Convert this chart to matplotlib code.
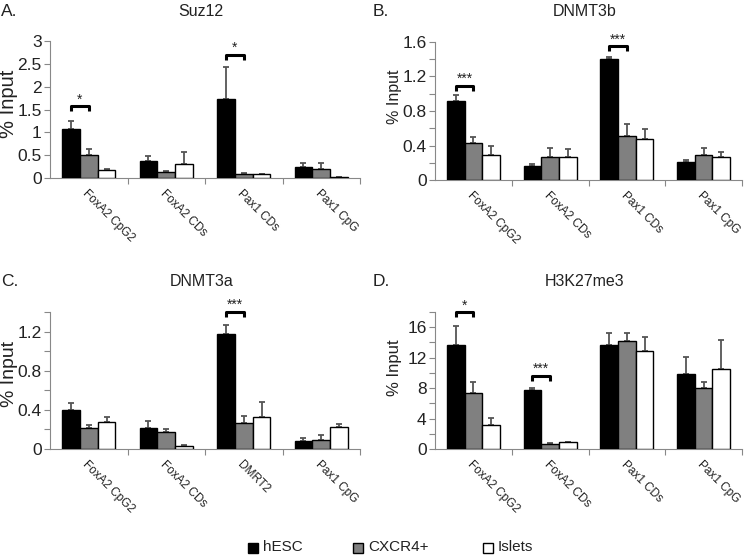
import matplotlib
matplotlib.use("Agg")
import matplotlib.pyplot as plt
import numpy as np

plt.rcParams['font.family'] = ['Liberation Sans', 'DejaVu Sans']

series = ["hESC", "CXCR4+", "Islets"]
colors = ["#000000", "#808080", "#ffffff"]

# Panel A: Suz12
catsA = ["FoxA2 CpG2", "FoxA2 CDs", "Pax1 CDs", "Pax1 CpG"]
A_hesc = [1.07, 0.38, 1.72, 0.23]
A_cxcr = [0.50, 0.13, 0.095, 0.20]
A_isl = [0.18, 0.31, 0.08, 0.015]
A_hesc_err = [0.17, 0.10, 0.70, 0.10]
A_cxcr_err = [0.13, 0.02, 0.025, 0.13]
A_isl_err = [0.02, 0.27, 0.0, 0.0]

# Panel B: DNMT3b
catsB = ["FoxA2 CpG2", "FoxA2 CDs", "Pax1 CDs", "Pax1 CpG"]
B_hesc = [0.92, 0.16, 1.40, 0.205]
B_cxcr = [0.43, 0.27, 0.515, 0.29]
B_isl = [0.29, 0.27, 0.47, 0.27]
B_hesc_err = [0.07, 0.02, 0.03, 0.025]
B_cxcr_err = [0.07, 0.10, 0.13, 0.08]
B_isl_err = [0.10, 0.09, 0.12, 0.05]

# Panel C: DNMT3a
catsC = ["FoxA2 CpG2", "FoxA2 CDs", "DMRT2", "Pax1 CpG"]
C_hesc = [0.395, 0.21, 1.18, 0.078]
C_cxcr = [0.21, 0.17, 0.27, 0.095]
C_isl = [0.28, 0.034, 0.33, 0.22]
C_hesc_err = [0.075, 0.08, 0.09, 0.03]
C_cxcr_err = [0.04, 0.03, 0.07, 0.045]
C_isl_err = [0.05, 0.006, 0.15, 0.035]

# Panel D: H3K27me3
catsD = ["FoxA2 CpG2", "FoxA2 CDs", "Pax1 CDs", "Pax1 CpG"]
D_hesc = [13.7, 7.74, 13.65, 9.9]
D_cxcr = [7.35, 0.70, 14.2, 8.0]
D_isl = [3.13, 0.87, 12.83, 10.48]
D_hesc_err = [2.5, 0.22, 1.6, 2.23]
D_cxcr_err = [1.4, 0.13, 1.06, 0.78]
D_isl_err = [0.9, 0.05, 1.9, 3.9]

panels = [
    dict(letter="A.", title="Suz12", cats=catsA, vals=[A_hesc, A_cxcr, A_isl],
         errs=[A_hesc_err, A_cxcr_err, A_isl_err], ylim=3.0, major=0.5, minor=None,
         fmt=lambda v: f"{v:g}", sig=[(0, 1.57, "*"), (2, 2.69, "*")],
         rect=(50, 41, 360, 178), top=0, ylab=(9, 104, 14.5)),
    dict(letter="B.", title="DNMT3b", cats=catsB, vals=[B_hesc, B_cxcr, B_isl],
         errs=[B_hesc_err, B_cxcr_err, B_isl_err], ylim=1.6, major=0.4, minor=0.2,
         fmt=lambda v: "0" if v == 0 else f"{v:.1f}", sig=[(0, 1.09, "***"), (2, 1.55, "***")],
         rect=(435, 42, 742, 180), top=0, ylab=(394, 97, 11.5)),
    dict(letter="C.", title="DNMT3a", cats=catsC, vals=[C_hesc, C_cxcr, C_isl],
         errs=[C_hesc_err, C_cxcr_err, C_isl_err], ylim=1.4, major=0.4, minor=0.2,
         fmt=lambda v: "0" if v == 0 else f"{v:.1f}", sig=[(2, 1.40, "***")],
         rect=(50, 312, 360, 449), top=270, ylab=(9, 374, 14)),
    dict(letter="D.", title="H3K27me3", cats=catsD, vals=[D_hesc, D_cxcr, D_isl],
         errs=[D_hesc_err, D_cxcr_err, D_isl_err], ylim=18, major=4, minor=2,
         fmt=lambda v: f"{v:g}", sig=[(0, 17.96, "*"), (1, 9.57, "***")],
         rect=(435, 312, 742, 449), top=270, ylab=(394, 368, 12)),
]

W, H = 745, 555
fig = plt.figure(figsize=(W / 100, H / 100), dpi=100)
txt = "#222222"
axc = "#888888"
bw = 0.23

for p in panels:
    x0, y0, x1, y1 = p["rect"]
    ax = fig.add_axes([x0 / W, 1 - y1 / H, (x1 - x0) / W, (y1 - y0) / H])
    n = len(p["cats"])
    x = np.arange(n)
    for i in range(3):
        xi = x + (i - 1) * bw
        ax.bar(xi, p["vals"][i], width=bw, color=colors[i], edgecolor="black",
               linewidth=1.0, zorder=3)
        ax.errorbar(xi, p["vals"][i], yerr=[np.zeros(n), p["errs"][i]], fmt="none",
                    ecolor="#555555", elinewidth=1.3, capsize=2.5, capthick=1.3, zorder=2)
    ax.set_xlim(-0.5, n - 0.5)
    ax.set_ylim(0, p["ylim"])
    for s in ["top", "right"]:
        ax.spines[s].set_visible(False)
    ax.spines["left"].set_color(axc)
    ax.spines["bottom"].set_color(axc)
    yt = np.arange(0, p["ylim"] + 1e-9, p["major"])
    ax.set_yticks(yt)
    ax.set_yticklabels([p["fmt"](v) for v in yt])
    if p["minor"]:
        ax.set_yticks(np.arange(0, p["ylim"] + 1e-9, p["minor"]), minor=True)
    ax.tick_params(axis="y", which="both", colors=axc, labelcolor=txt, labelsize=12.5,
                   length=4, width=0.8, pad=2)
    ax.set_xticks(x)
    ax.set_xticklabels(p["cats"], rotation=-45, ha="left", va="top",
                       rotation_mode="anchor", fontsize=8.5, color=txt)
    ax.tick_params(axis="x", which="major", length=0, pad=7)
    ax.set_xticks(np.arange(0.5, n - 0.5 + 1e-9, 1.0), minor=True)
    ax.tick_params(axis="x", which="minor", length=4, colors=axc, width=0.8)
    lx_, ly_, lfs = p["ylab"]
    fig.text(lx_ / W, 1 - ly_ / H, "% Input", rotation=90, fontsize=lfs, color=txt,
             ha="center", va="center")
    fig.text((x0 + x1) / 2 / W - 0.005, 1 - (p["top"] + 11) / H, p["title"],
             fontsize=11.5, color=txt, ha="center", va="center")
    fig.text((x0 - 49) / W if x0 < 100 else (x0 - 62) / W, 1 - (p["top"] + 11) / H,
             p["letter"], fontsize=12.5, color=txt, va="center", ha="left")
    for (ci, yv, star) in p["sig"]:
        xa = ci - bw
        xb = ci
        d = p["ylim"] * 0.035
        ax.plot([xa, xa, xb, xb], [yv - d, yv, yv, yv - d], color="black", lw=2.2,
                clip_on=False, zorder=4, solid_capstyle="butt")
        ax.text((xa + xb) / 2, yv, star, ha="center", va="bottom",
                fontsize=10, color=txt, clip_on=False)

# Legend
lx = [248, 353, 483]
for i, name in enumerate(series):
    fig.patches.append(plt.Rectangle((lx[i] / W, 1 - 553 / H), 10 / W, 10 / H,
                                     transform=fig.transFigure, facecolor=colors[i],
                                     edgecolor="black", linewidth=1.0))
    fig.text((lx[i] + 15) / W, 1 - 547 / H, name, fontsize=11, color=txt,
             va="center", ha="left")

fig.savefig("out.png", dpi=100)
